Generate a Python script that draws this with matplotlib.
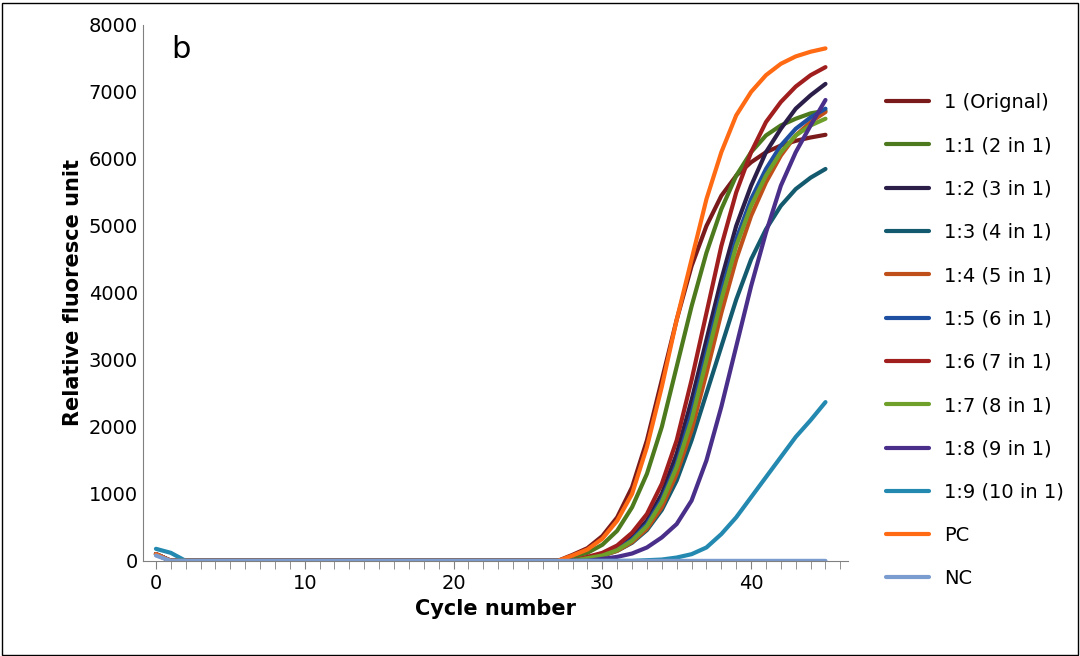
import matplotlib.pyplot as plt
from matplotlib.ticker import MultipleLocator

cycles = list(range(46))

names = ["1 (Orignal)", "1:1 (2 in 1)", "1:2 (3 in 1)", "1:3 (4 in 1)", "1:4 (5 in 1)",
         "1:5 (6 in 1)", "1:6 (7 in 1)", "1:7 (8 in 1)", "1:8 (9 in 1)", "1:9 (10 in 1)",
         "PC", "NC"]
colors = ["#7B1A1A", "#4E7A1E", "#2B1F4A", "#145A6E", "#C0501A", "#1F4FA0",
          "#A01E1E", "#6FA02A", "#4A2F8A", "#2389B0", "#FF6A13", "#7B9CCF"]

# readings from the picture: {cycle: value}, others are ~0
start = {0: 100}
orig = {28: 90, 29: 190, 30: 370, 31: 650, 32: 1100, 33: 1800, 34: 2700, 35: 3600, 36: 4400,
        37: 5000, 38: 5450, 39: 5750, 40: 5950, 41: 6100, 42: 6200, 43: 6270, 44: 6320, 45: 6360}
d1 = {28: 60, 29: 120, 30: 240, 31: 450, 32: 800, 33: 1300, 34: 2000, 35: 2900, 36: 3800,
      37: 4600, 38: 5250, 39: 5750, 40: 6100, 41: 6350, 42: 6500, 43: 6600, 44: 6680, 45: 6720}
d2 = {29: 50, 30: 100, 31: 190, 32: 350, 33: 600, 34: 1000, 35: 1600, 36: 2400, 37: 3300,
      38: 4200, 39: 5000, 40: 5600, 41: 6100, 42: 6450, 43: 6750, 44: 6950, 45: 7120}
d3 = {29: 40, 30: 80, 31: 150, 32: 270, 33: 460, 34: 760, 35: 1200, 36: 1800, 37: 2500,
      38: 3200, 39: 3900, 40: 4500, 41: 4950, 42: 5300, 43: 5550, 44: 5720, 45: 5850}
d4 = {29: 40, 30: 80, 31: 150, 32: 280, 33: 480, 34: 800, 35: 1300, 36: 1950, 37: 2800,
      38: 3700, 39: 4500, 40: 5150, 41: 5650, 42: 6050, 43: 6350, 44: 6550, 45: 6700}
d5 = {29: 45, 30: 90, 31: 170, 32: 320, 33: 550, 34: 920, 35: 1450, 36: 2200, 37: 3100,
      38: 4000, 39: 4800, 40: 5400, 41: 5850, 42: 6200, 43: 6450, 44: 6620, 45: 6750}
d6 = {29: 60, 30: 120, 31: 230, 32: 420, 33: 700, 34: 1150, 35: 1800, 36: 2700, 37: 3700,
      38: 4700, 39: 5500, 40: 6100, 41: 6550, 42: 6850, 43: 7080, 44: 7250, 45: 7370}
d7 = {29: 40, 30: 80, 31: 160, 32: 300, 33: 520, 34: 880, 35: 1400, 36: 2100, 37: 3000,
      38: 3900, 39: 4700, 40: 5300, 41: 5750, 42: 6100, 43: 6350, 44: 6500, 45: 6600}
d8 = {30: 30, 31: 60, 32: 110, 33: 200, 34: 350, 35: 550, 36: 900, 37: 1500, 38: 2300,
      39: 3200, 40: 4100, 41: 4900, 42: 5600, 43: 6100, 44: 6500, 45: 6880}
d9 = {0: 180, 1: 120, 33: 10, 34: 20, 35: 50, 36: 100, 37: 200, 38: 400, 39: 650, 40: 950,
      41: 1250, 42: 1550, 43: 1850, 44: 2100, 45: 2370}
pc = {28: 80, 29: 170, 30: 330, 31: 600, 32: 1000, 33: 1700, 34: 2600, 35: 3600, 36: 4500,
      37: 5400, 38: 6100, 39: 6650, 40: 7000, 41: 7250, 42: 7420, 43: 7530, 44: 7600, 45: 7650}
nc = {0: 80}

readings = [orig, d1, d2, d3, d4, d5, d6, d7, d8, d9, pc, nc]


def series(r):
    vals = []
    for c in cycles:
        if c in r:
            vals.append(r[c])
        elif c == 0:
            vals.append(start[0])
        else:
            vals.append(0)
    return vals


fig = plt.figure(figsize=(10.8, 6.56), dpi=100)
ax = fig.add_axes([0.132, 0.145, 0.653, 0.817])
for name, col, r in zip(names, colors, readings):
    ax.plot(cycles, series(r), color=col, lw=3, label=name, solid_capstyle="round")

ax.set_xlim(-0.9, 46.5)
ax.set_ylim(0, 8000)
ax.set_xticks([0, 10, 20, 30, 40])
ax.xaxis.set_minor_locator(MultipleLocator(1))
ax.set_yticks(range(0, 8001, 1000))
ax.tick_params(axis="both", labelsize=14, direction="out")
ax.tick_params(axis="y", length=0)
ax.tick_params(axis="x", which="both", length=6, color="#808080")
ax.spines["top"].set_visible(False)
ax.spines["right"].set_visible(False)
ax.spines["bottom"].set_color("#808080")
ax.spines["left"].set_color("#808080")
ax.set_xlabel("Cycle number", fontsize=15, fontweight="bold")
ax.set_ylabel("Relative fluoresce unit", fontsize=15, fontweight="bold")
ax.text(1.0, 7850, "b", fontsize=22, va="top")

ax.legend(loc="upper left", bbox_to_anchor=(0.804, 0.885), bbox_transform=fig.transFigure,
          frameon=False, fontsize=14, handlelength=2.2, labelspacing=1.25)

fig.patches.append(plt.Rectangle((0.002, 0.002), 0.996, 0.994, transform=fig.transFigure,
                                 fill=False, edgecolor="black", lw=1))
fig.savefig("out.png", dpi=100)
